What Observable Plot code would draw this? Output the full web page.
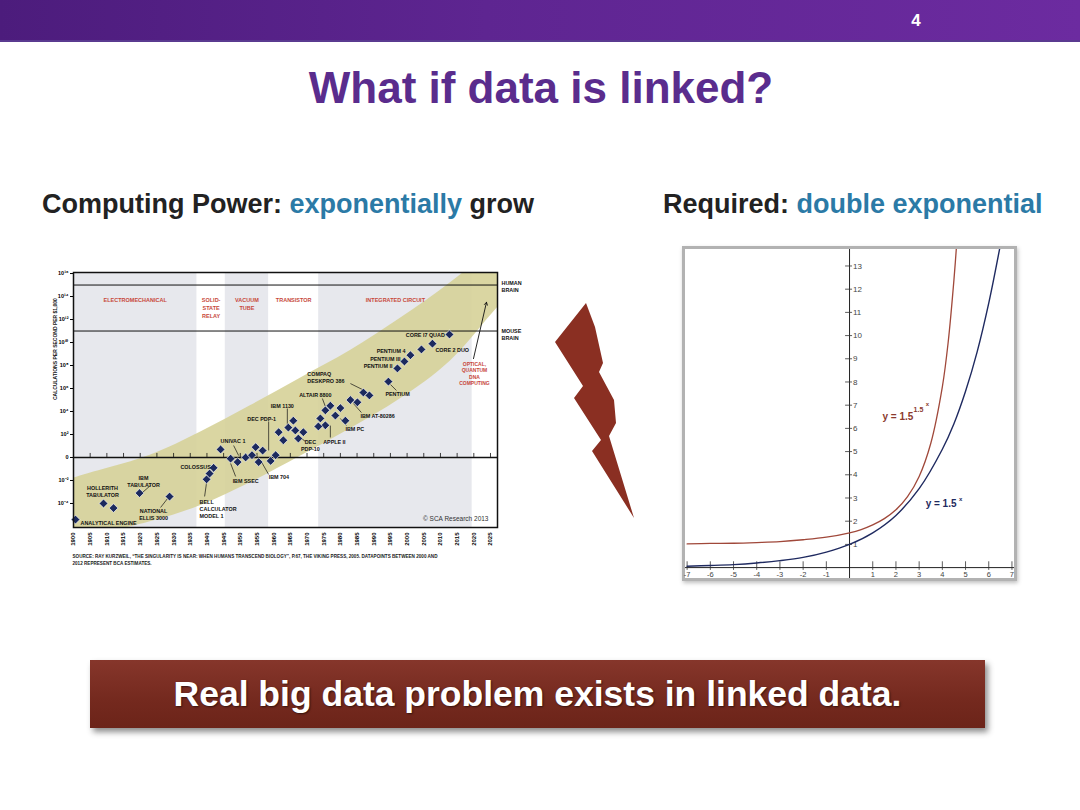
<!DOCTYPE html>
<html>
<head>
<meta charset="utf-8">
<script src="https://cdn.jsdelivr.net/npm/d3@7"></script>
<script src="https://cdn.jsdelivr.net/npm/@observablehq/plot@0.6"></script>
<style>
  html, body { margin: 0; padding: 0; }
  body { width: 1080px; height: 810px; background: #fff; position: relative; overflow: hidden;
         font-family: "Liberation Sans", Arial, sans-serif; }
  #bar { position: absolute; left: 0; top: 0; width: 1080px; height: 40px;
         background: linear-gradient(to right, #4c1c7c, #5e2591 45%, #6c2ba0);
         border-bottom: 2px solid #5a3a90; }
  #pagenum { position: absolute; left: 908px; top: 11px; width: 16px; text-align: center;
             color: #fff; font-weight: bold; font-size: 17px; }
  #title { position: absolute; left: 0; top: 63px; width: 1082px; text-align: center;
           font-weight: bold; font-size: 44px; color: #5a2c8d; }
  .sub { position: absolute; top: 189px; font-weight: bold; font-size: 27px; color: #222; white-space: nowrap; }
  .sub span { color: #2b7aa6; }
  #leftChart { position: absolute; left: 40px; top: 262px; width: 490px; height: 310px; }
  #rightFrame { position: absolute; left: 682px; top: 246px; width: 335px; height: 335px; box-sizing: border-box;
                border: 3px solid #b2b2b2; box-shadow: 1px 2px 4px rgba(0,0,0,0.25); background: #fff; }
  #rightChart { position: absolute; left: 0; top: 0; width: 329px; height: 329px; }
  #bolt { position: absolute; left: 0; top: 0; }
  #banner { position: absolute; left: 90px; top: 660px; width: 895px; height: 68px;
            background: linear-gradient(to bottom, #86362b, #74291e 60%, #6c2419);
            box-shadow: 3px 4px 6px rgba(0,0,0,0.45);
            color: #fff; font-weight: bold; font-size: 35.5px; text-align: center; line-height: 68px;
            text-shadow: 1px 1px 2px rgba(0,0,0,0.55); }
</style>
</head>
<body>
<div id="bar"></div>
<div id="pagenum">4</div>
<div id="title">What if data is linked?</div>
<div class="sub" style="left:42px;">Computing Power: <span>exponentially</span> grow</div>
<div class="sub" style="left:663px;">Required: <span>double exponential</span></div>
<div id="leftChart"></div>
<svg id="bolt" width="1080" height="810"><polygon fill="#8a2f22"
  points="586,303 595,327 603,363 599,372 614,400 616,423 609,436 634,518 592,451 601,440 574,398 583,386 555,342"/></svg>
<div id="rightFrame"><div id="rightChart"></div></div>
<div id="banner">Real big data problem exists in linked data.</div>

<script>
// ================= LEFT CHART DATA (Kurzweil: calculations per second per $1,000) =================
const eraNames   = ["ELECTROMECHANICAL", "SOLID-\nSTATE\nRELAY", "VACUUM\nTUBE", "TRANSISTOR", "INTEGRATED CIRCUIT"];
const eraStart   = [1900, 1937, 1945.5, 1958.5, 1973.5];
const eraEnd     = [1937, 1945.5, 1958.5, 1973.5, 2019.5];
const eraShaded  = [true, false, true, false, true];

// trend band (exponent of 10)
const bandYears   = [1895, 1900, 1923, 1938, 1953, 1968, 1983, 1998, 2013, 2027, 2035];
const bandHighExp = [-2.4, -1.8, 0.2, 2.2, 4.5, 6.9, 9.3, 12.1, 15.2, 18.5, 20.5];
const bandLowExp  = [-7.7, -7.2, -5.6, -4.2, -2.2, 0.1, 2.5, 5.1, 8.4, 13.0, 15.5];

// machines (year, exponent of calculations per second per $1,000)
const machineYears = [1900.6, 1909, 1912, 1919.8, 1928.8, 1939.9, 1940.8, 1942, 1944.1, 1947.1, 1949.2, 1951.6,
  1954.6, 1956.7, 1953.5, 1955.5, 1959.1, 1960.6, 1961.5, 1962.9, 1964.4, 1965.9, 1966.5, 1968.9, 1967.4,
  1974, 1975.5, 1977, 1978.5, 1980, 1981.5, 1975.5, 1973.4, 1983, 1985.1, 1986.9, 1988.7, 1994.4, 1997.1,
  1999.2, 2001, 2004.3, 2007.6, 2012.7];
const machineExp = [-5.4, -4.0, -4.4, -3.1, -3.4, -1.9, -1.4, -0.9, 0.7, -0.1, -0.4, 0.0,
  0.9, 0.6, 0.2, -0.4, -0.3, 0.2, 2.2, 1.5, 2.6, 3.2, 2.35, 2.2, 1.65,
  3.4, 4.1, 4.5, 3.65, 4.3, 3.2, 2.8, 2.7, 5.0, 4.8, 5.65, 5.4, 6.6, 7.75,
  8.35, 8.9, 9.4, 9.9, 10.7];

const labelTexts = ["ANALYTICAL ENGINE", "HOLLERITH\nTABULATOR", "IBM\nTABULATOR", "NATIONAL\nELLIS 3000",
  "BELL\nCALCULATOR\nMODEL 1", "COLOSSUS", "UNIVAC 1", "IBM SSEC", "IBM 704", "DEC PDP-1", "IBM 1130",
  "DEC\nPDP-10", "ALTAIR 8800", "APPLE II", "IBM PC", "IBM AT-80286", "COMPAQ\nDESKPRO 386", "PENTIUM",
  "PENTIUM 4", "PENTIUM III", "PENTIUM II", "CORE 2 DUO", "CORE I7 QUAD"];
const labelYears = [1902.1, 1908.7, 1921.0, 1924.0, 1937.8, 1936.6, 1944.1, 1947.7, 1958.5, 1956.4, 1962.6,
  1971.0, 1972.5, 1978.2, 1981.5, 1986.0, 1970.1, 1993.5, 1999.5, 1998.0, 1995.6, 2008.5, 2011.3];
const labelExp = [-5.65, -2.96, -2.09, -4.96, -4.43, -0.78, 1.48, -2.0, -1.65, 3.39, 4.52,
  1.04, 5.48, 1.39, 2.52, 3.65, 6.96, 5.57, 9.30, 8.61, 8.0, 9.39, 10.7];
const labelAnchors = ["start", "middle", "middle", "middle", "start", "middle", "start", "start", "start", "middle", "middle",
  "middle", "middle", "middle", "start", "start", "start", "start", "end", "end", "end", "start", "end"];

// leader lines [year1, exp1, year2, exp2]
const leaderFromYear = [1923.1, 1928.2, 1939.3, 1948.0, 1947.1, 1956.1, 1958.5, 1964.1, 1968.0, 1974.6, 1977.0, 1980.0, 1983.9, 1983.0, 1995.0];
const leaderFromExp  = [-2.43, -3.57, -3.39, 1.04, -0.52, -0.26, 3.13, 4.26, 1.74, 5.13, 2.78, 3.39, 4.70, 6.43, 6.35];
const leaderToYear   = [1920.7, 1926.1, 1939.9, 1949.5, 1948.6, 1958.5, 1958.5, 1964.1, 1969.5, 1975.5, 1977.0, 1981.8, 1986.3, 1986.6, 1996.8];
const leaderToExp    = [-3.04, -4.35, -2.17, 0.17, -1.65, -1.48, 0.61, 2.52, 1.39, 4.43, 1.74, 2.78, 3.91, 5.91, 5.83];

const brainNames = ["HUMAN\nBRAIN", "MOUSE\nBRAIN"];
const brainExp   = [15, 11];
const brainLabelExp = [14.87, 10.74];

const futureLabel = "OPTICAL,\nQUANTUM\nDNA\nCOMPUTING";
const futureYear = 2020.2, futureExp = 7.3;
const futureArrow = {fromYear: 2019.9, fromExp: 8.6, toYear: 2023.8, toExp: 13.5};

const yTickExp = [-4, -2, 0, 2, 4, 6, 8, 10, 12, 14, 16];
const xTickYears = d3.range(1900, 2026, 5);
const sourceLines = ["SOURCE: RAY KURZWEIL, \u201CTHE SINGULARITY IS NEAR: WHEN HUMANS TRANSCEND BIOLOGY\u201D, P.67, THE VIKING PRESS, 2005. DATAPOINTS BETWEEN 2000 AND",
                     "2012 REPRESENT BCA ESTIMATES."];
const yAxisTitle = "CALCULATIONS PER SECOND PER $1,000";
const copyright = "\u00A9 SCA Research 2013";

// ================= RIGHT CHART DATA =================
const expX = [-7, -6, -5, -4, -3, -2, -1, 0, 1, 2, 3, 4, 4.5, 5, 5.5, 6, 6.5];
const expY = [0.06, 0.09, 0.13, 0.2, 0.3, 0.44, 0.67, 1, 1.5, 2.25, 3.4, 5.1, 6.2, 7.6, 9.3, 11.4, 13.9];
const dblX = [-7, -6, -5, -4, -3, -2, -1, 0, 0.5, 1, 1.5, 2, 2.5, 3, 3.5, 4, 4.25, 4.5, 4.65];
const dblY = [1.02, 1.04, 1.05, 1.08, 1.12, 1.2, 1.31, 1.5, 1.64, 1.84, 2.11, 2.49, 3.06, 3.93, 5.35, 7.79, 9.7, 12.4, 14.4];
const rxTicks = [-7, -6, -5, -4, -3, -2, -1, 1, 2, 3, 4, 5, 6, 7];
const ryTicks = [1, 2, 3, 4, 5, 6, 7, 8, 9, 10, 11, 12, 13];
const eqTexts  = ["y = 1.5", "1.5", "x", "y = 1.5", "x"];
const eqX      = [1.42, 2.76, 3.28, 3.28, 4.72];
const eqY      = [6.5, 6.81, 7.03, 2.76, 2.95];
const eqSizes  = [10, 7, 6, 10, 6];
const eqColors = ["#8b3a2e", "#8b3a2e", "#8b3a2e", "#1f2a60", "#1f2a60"];

// ================= BUILD LEFT CHART =================
const FONT = "Liberation Sans, Arial, sans-serif";
const eras = eraNames.map((n, i) => ({name: n, x1: eraStart[i], x2: eraEnd[i], shaded: eraShaded[i], mid: (eraStart[i] + eraEnd[i]) / 2}));
const band = bandYears.map((y, i) => ({year: y, lo: 10 ** bandLowExp[i], hi: 10 ** bandHighExp[i]}));
const machines = machineYears.map((y, i) => ({year: y, cps: 10 ** machineExp[i]}));
const labels = labelTexts.map((t, i) => ({text: t, year: labelYears[i], cps: 10 ** labelExp[i], anchor: labelAnchors[i]}));
const leaders = leaderFromYear.map((y, i) => ({x1: y, y1: 10 ** leaderFromExp[i], x2: leaderToYear[i], y2: 10 ** leaderToExp[i]}));
const supDigits = {"-": "\u207B", "0": "\u2070", "1": "\u00B9", "2": "\u00B2", "3": "\u00B3", "4": "\u2074", "5": "\u2075", "6": "\u2076", "7": "\u2077", "8": "\u2078", "9": "\u2079"};
const fmtPow = v => { const e = Math.round(Math.log10(v)); return e === 0 ? "0" : "10" + String(e).split("").map(c => supDigits[c]).join(""); };
const labelMarks = ["start", "middle", "end"].map(a =>
  Plot.text(labels.filter(d => d.anchor === a), {x: "year", y: "cps", text: "text", textAnchor: a, fontSize: 5.4, fontWeight: "bold", fill: "#111", lineHeight: 1.3}));

const left = Plot.plot({
  width: 490, height: 310,
  marginLeft: 33, marginRight: 33, marginTop: 10, marginBottom: 45,
  style: {fontFamily: FONT, overflow: "visible", background: "transparent", maxWidth: "none"},
  x: {domain: [1900, 2027.1]},
  y: {type: "log", domain: [10 ** -6.09, 10 ** 16.09]},
  marks: [
    Plot.rect(eras.filter(d => d.shaded), {x1: "x1", x2: "x2", fill: "#e7e8ed"}),
    Plot.areaY(band, {x: "year", y1: "lo", y2: "hi", curve: "catmull-rom", fill: "#d6d198", fillOpacity: 0.9, clip: true}),
    Plot.ruleY(brainExp.map(e => 10 ** e), {stroke: "#111", strokeWidth: 1}),
    Plot.ruleY([1], {stroke: "#111", strokeWidth: 1.5}),
    Plot.ruleX(xTickYears.slice(1), {x: d => d, y1: 1, y2: 10 ** 0.35, stroke: "#111", strokeWidth: 0.8}),
    Plot.text(eras, {x: "mid", y: 10 ** 14.0, text: "name", lineAnchor: "top", fontSize: 5.5, fontWeight: "bold", fill: "#c7473a", lineHeight: 1.45}),
    Plot.link(leaders, {x1: "x1", y1: "y1", x2: "x2", y2: "y2", stroke: "#111", strokeWidth: 0.7}),
    Plot.arrow([futureArrow], {x1: "fromYear", y1: d => 10 ** d.fromExp, x2: "toYear", y2: d => 10 ** d.toExp, stroke: "#111", strokeWidth: 0.9, headLength: 5}),
    Plot.dot(machines, {x: "year", y: "cps", symbol: "square", rotate: 45, r: 3.5, fill: "#1c2a5e", stroke: "#ffffff", strokeWidth: 0.6}),
    ...labelMarks,
    Plot.text(brainNames, {x: 2028.3, y: (d, i) => 10 ** brainLabelExp[i], text: d => d, textAnchor: "start", fontSize: 5.4, fontWeight: "bold", fill: "#111", lineHeight: 1.3}),
    Plot.text([futureLabel], {x: futureYear, y: 10 ** futureExp, text: d => d, fontSize: 5, fontWeight: "bold", fill: "#c7473a", lineHeight: 1.3}),
    Plot.text([copyright], {x: 2024.4, y: 10 ** -5.3, text: d => d, textAnchor: "end", fontSize: 6.5, fill: "#333"}),
    Plot.frame({stroke: "#111", strokeWidth: 1.5}),
    Plot.axisY({ticks: yTickExp.map(e => 10 ** e), tickFormat: fmtPow, tickSize: 3, tickPadding: 2, fontSize: 5.5, fontWeight: "bold", label: null}),
    Plot.axisX({ticks: xTickYears, tickFormat: d => String(d), tickRotate: -90, tickSize: 0, tickPadding: 5, fontSize: 6, fontWeight: "bold", label: null}),
    Plot.text([yAxisTitle], {frameAnchor: "left", rotate: -90, dx: -18, text: d => d, fontSize: 5, fontWeight: "bold", fill: "#111"}),
    Plot.text(sourceLines, {frameAnchor: "bottom-left", dx: -1, text: d => d, textAnchor: "start", fontSize: 4.6, fontWeight: "bold", fill: "#222"})
  ]
});
// position source lines below the frame
left.querySelectorAll("text").forEach(t => {
  if (t.textContent === sourceLines[0]) t.setAttribute("transform", (t.getAttribute("transform") || "") + " translate(0,30)");
  if (t.textContent === sourceLines[1]) t.setAttribute("transform", (t.getAttribute("transform") || "") + " translate(0,37)");
});
document.getElementById("leftChart").appendChild(left);

// ================= BUILD RIGHT CHART =================
const expPts = expX.map((x, i) => ({x, y: expY[i]}));
const dblPts = dblX.map((x, i) => ({x, y: dblY[i]}));
const eqs = eqTexts.map((t, i) => ({t, x: eqX[i], y: eqY[i], s: eqSizes[i], c: eqColors[i]}));

const right = Plot.plot({
  width: 329, height: 329,
  marginLeft: 0, marginRight: 0, marginTop: 0, marginBottom: 0,
  style: {fontFamily: FONT, overflow: "visible", background: "#fff", maxWidth: "none"},
  x: {domain: [-7.07, 7.11], axis: null},
  y: {domain: [-0.47, 13.71], axis: null},
  marks: [
    Plot.ruleY([0], {stroke: "#222", strokeWidth: 1}),
    Plot.ruleX([0], {stroke: "#222", strokeWidth: 1}),
    Plot.ruleX(rxTicks, {x: d => d, y1: -0.12, y2: 0.25, stroke: "#333", strokeWidth: 0.8}),
    Plot.ruleY(ryTicks, {y: d => d, x1: -0.17, x2: 0.13, stroke: "#333", strokeWidth: 0.8}),
    Plot.text(rxTicks, {x: d => d, y: -0.3, text: d => String(d), fontSize: 7.5, fill: "#444"}),
    Plot.text(ryTicks, {x: 0.15, y: d => d, text: d => String(d), textAnchor: "start", fontSize: 8, fill: "#444"}),
    Plot.line(dblPts, {x: "x", y: "y", curve: "catmull-rom", stroke: "#a0483a", strokeWidth: 1.3, clip: true}),
    Plot.line(expPts, {x: "x", y: "y", curve: "catmull-rom", stroke: "#1f2a60", strokeWidth: 1.4, clip: true}),
    Plot.text(eqs, {x: "x", y: "y", text: "t", fontSize: d => d.s, fill: "c", textAnchor: "start", fontWeight: "bold"})
  ]
});
document.getElementById("rightChart").appendChild(right);
</script>
</body>
</html>
